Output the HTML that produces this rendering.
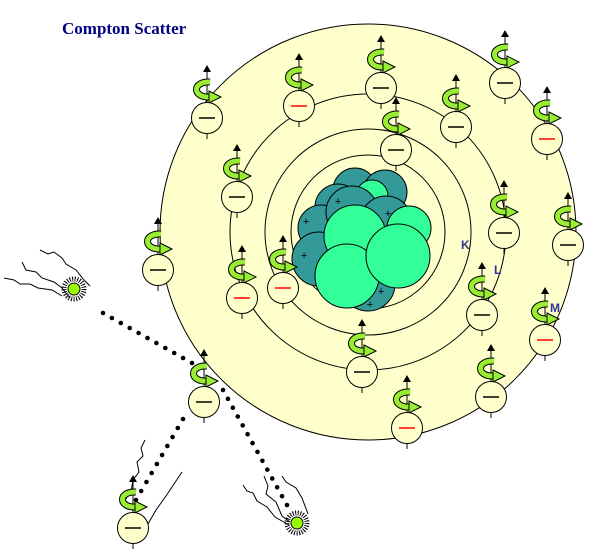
<!DOCTYPE html>
<html><head><meta charset="utf-8"><style>
html,body{margin:0;padding:0;background:#fff}
svg{display:block}
</style></head><body>
<svg width="593" height="555" viewBox="0 0 593 555" id="svg">
<text x="62" y="34" font-family="Liberation Serif, serif" font-weight="bold" font-size="17" fill="#000080">Compton Scatter</text>
<circle cx="368" cy="232" r="208" fill="#ffffcc" stroke="#000" stroke-width="1"/>
<circle cx="368" cy="232" r="138" fill="none" stroke="#000" stroke-width="1"/>
<circle cx="368" cy="232" r="103" fill="none" stroke="#000" stroke-width="1"/>
<circle cx="368" cy="232" r="77" fill="none" stroke="#000" stroke-width="1"/>
<g stroke="#000" stroke-width="1">
<circle cx="355" cy="190" r="22" fill="#339999"/>
<circle cx="385" cy="192" r="22" fill="#339999"/>
<circle cx="372" cy="196" r="16" fill="#33ff99"/>
<circle cx="338" cy="207" r="23" fill="#339999"/>
<circle cx="321" cy="228" r="23" fill="#339999"/>
<circle cx="352" cy="212" r="26" fill="#339999"/>
<circle cx="386" cy="222" r="26" fill="#339999"/>
<circle cx="409" cy="228" r="22" fill="#33ff99"/>
<circle cx="319" cy="259" r="27" fill="#339999"/>
<circle cx="368" cy="284" r="27" fill="#339999"/>
<circle cx="355" cy="236" r="31" fill="#33ff99"/>
<circle cx="347" cy="276" r="32" fill="#33ff99"/>
<circle cx="398" cy="256" r="32" fill="#33ff99"/>
</g>
<g font-family="Liberation Mono, monospace" font-size="11" fill="#000" text-anchor="middle">
<text x="338" y="205">+</text><text x="306" y="225">+</text><text x="388" y="217">+</text>
<text x="304" y="259">+</text><text x="381" y="295">+</text><text x="370" y="308">+</text>
</g>
<g font-family="Liberation Sans, sans-serif" font-weight="bold" font-size="12" fill="#333399">
<text x="461" y="249">K</text>
<text x="494" y="274">L</text>
<text x="550" y="312">M</text>
</g>
<g fill="none" stroke="#000" stroke-width="1">
<path d="M40,250 l8,4 6,-2 8,6 4,6 10,6 8,10 6,6"/>
<path d="M22,262 l4,8 10,2 6,6 12,4 8,6 8,10"/>
<path d="M4,278 l10,2 6,4 10,0 8,4 14,2 10,6"/>
<path d="M145,440 l-4,8 2,8 -6,6 2,10 -6,8 -2,12 -6,8"/>
<path d="M148,524 l8,-14 10,-14 12,-18 4,-6"/>
<path d="M243,485 l4,6 6,2 4,8 10,6 8,10 14,8"/>
<path d="M264,476 l4,10 -2,8 10,8 6,14 8,6"/>
<path d="M282,476 l4,6 10,6 6,10 6,16"/>
</g>
<g id="dots" fill="#000"></g>
<g>
<circle cx="74" cy="289" r="10" fill="none" stroke="#000" stroke-width="5" stroke-dasharray="1 1.5"/>
<circle cx="74" cy="289" r="6" fill="#99ff00" stroke="#000" stroke-width="1"/>
<circle cx="297" cy="523" r="10" fill="none" stroke="#000" stroke-width="5" stroke-dasharray="1 1.5"/>
<circle cx="297" cy="523" r="6" fill="#99ff00" stroke="#000" stroke-width="1"/>
</g>
<g id="electrons"></g>
</svg>
<script>
const electronX=[207,299,381,456,505,547,396,237,504,568,158,242,283,482,545,362,491,407,204,133];
const electronY=[118,106,88,127,83,139,150,197,233,245,270,298,288,315,340,372,397,428,402,528];
const electronRed=[0,1,0,0,0,1,0,0,0,0,0,1,1,0,1,0,0,1,0,0];
const NS='http://www.w3.org/2000/svg';
const eg=document.getElementById('electrons');
function mk(tag,attrs,parent){const e=document.createElementNS(NS,tag);for(const k in attrs)e.setAttribute(k,attrs[k]);parent.appendChild(e);return e;}
electronX.forEach((x,i)=>{
  const y=electronY[i];
  const g=mk('g',{},eg);
  
  
  mk('line',{x1:x,y1:y-16,x2:x,y2:y-46,stroke:'#000','stroke-width':1},g);
  mk('line',{x1:x,y1:y+16,x2:x,y2:y+21,stroke:'#000','stroke-width':1},g);
  mk('path',{d:`M${x-4},${y-46} L${x},${y-53} L${x+4},${y-46} Z`,fill:'#000'},g);
  const sp=`M${x+3},${y-36} C${x-15},${y-37} ${x-15},${y-20} ${x+3},${y-21}`;
  mk('path',{d:sp,fill:'none',stroke:'#000','stroke-width':7,'stroke-linecap':'butt'},g);
  mk('path',{d:sp,fill:'none',stroke:'#99ee33','stroke-width':5,'stroke-linecap':'butt'},g);
  mk('path',{d:`M${x+2},${y-27} L${x+14},${y-21} L${x+2},${y-15} Z`,fill:'#99ee33',stroke:'#000','stroke-width':1},g);
  mk('circle',{cx:x,cy:y,r:15.5,fill:'#ffffcc',stroke:'#000','stroke-width':1},g);
  mk('line',{x1:x-8,y1:y,x2:x+8,y2:y,stroke:electronRed[i]?'#ff0000':'#000','stroke-width':1.5},g);
});
const dg=document.getElementById('dots');
[[103,313,192,363],[223,390,287,505],[183,419,136,500]].forEach(s=>{
  const L=Math.hypot(s[2]-s[0],s[3]-s[1]);const n=Math.round(L/10.5);
  for(let k=0;k<=n;k++){const c=mk('circle',{cx:s[0]+(s[2]-s[0])*k/n,cy:s[1]+(s[3]-s[1])*k/n,r:2.3},dg);
  
  }
});
</script>
</body></html>
